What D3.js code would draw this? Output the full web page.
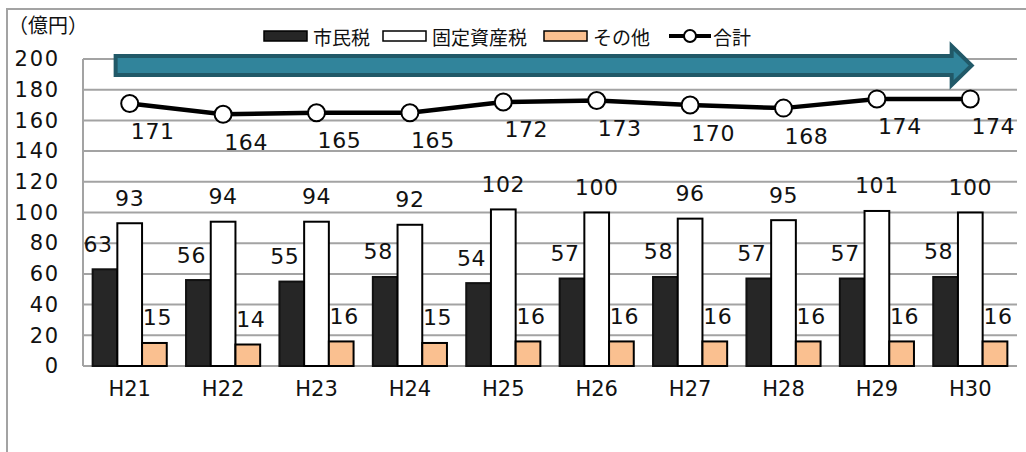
<!DOCTYPE html>
<html><head><meta charset="utf-8">
<script src="https://cdn.jsdelivr.net/npm/d3@7"></script>
<style>
html,body{margin:0;padding:0;background:#fff;}
svg{display:block;}
</style></head>
<body>
<svg id="chart" width="1026" height="452"></svg>
<script>
const categories = ["H21","H22","H23","H24","H25","H26","H27","H28","H29","H30"];
const shiminzei = [63,56,55,58,54,57,58,57,57,58];
const koteishisanzei = [93,94,94,92,102,100,96,95,101,100];
const sonota = [15,14,16,15,16,16,16,16,16,16];
const goukei = [171,164,165,165,172,173,170,168,174,174];
const yTicks = [0,20,40,60,80,100,120,140,160,180,200];
const seriesNames = ["市民税","固定資産税","その他","合計"];
const unitLabel = "（億円）";

const svg = d3.select("#chart");
const pLeft = 83, pRight = 1017, pTop = 59, pBottom = 366;
const gridColor = "#a3a3a3";

// frame
svg.append("path").attr("d", `M7,452 L7,9 L1026,9`).attr("fill","none")
  .attr("stroke", gridColor).attr("stroke-width", 2);

const x = d3.scaleBand().domain(categories).range([pLeft, pRight]);
const x1 = d3.scaleBand().domain(["a","b","c"]).range([0, x.bandwidth()]).paddingInner(0).paddingOuter(0.39);
const y = d3.scaleLinear().domain([0,200]).range([pBottom, pTop]);

// gridlines
svg.append("g").selectAll("line").data(yTicks).join("line")
  .attr("x1", pLeft).attr("x2", pRight)
  .attr("y1", d => y(d)).attr("y2", d => y(d))
  .attr("stroke", gridColor).attr("stroke-width", 2);
svg.append("line").attr("x1", pLeft).attr("x2", pLeft).attr("y1", y(200)).attr("y2", y(0))
  .attr("stroke", gridColor).attr("stroke-width", 2);

// y axis labels
const yAxis = d3.axisLeft(y).tickValues(yTicks).tickSize(0).tickPadding(23);
const ga = svg.append("g").attr("transform", `translate(${pLeft},0)`).call(yAxis);
ga.select(".domain").remove();
ga.selectAll("text").attr("font-size", 21).attr("fill","#111")
  .attr("font-family","DejaVu Sans").attr("letter-spacing", 1.8);

// x axis labels
const xAxis = d3.axisBottom(x).tickSize(0).tickPadding(15);
const gx = svg.append("g").attr("transform", `translate(0,${pBottom})`).call(xAxis);
gx.select(".domain").remove();
gx.selectAll("text").attr("font-size", 21).attr("fill","#111").attr("font-family","DejaVu Sans");

// bars
const series = [
  {key:"a", vals: shiminzei, fill:"#262626", stroke:"#111", dx:-7},
  {key:"b", vals: koteishisanzei, fill:"#ffffff", stroke:"#000", dx:0},
  {key:"c", vals: sonota, fill:"#FAC090", stroke:"#000", dx:3},
];
series.forEach(s => {
  const g = svg.append("g");
  g.selectAll("rect").data(s.vals).join("rect")
    .attr("x", (d,i) => x(categories[i]) + x1(s.key))
    .attr("width", x1.bandwidth())
    .attr("y", d => y(d))
    .attr("height", d => y(0) - y(d))
    .attr("fill", s.fill).attr("stroke", s.stroke).attr("stroke-width", 2);
});
series.forEach(s => {
  svg.append("g").selectAll("text").data(s.vals).join("text")
    .attr("x", (d,i) => x(categories[i]) + x1(s.key) + x1.bandwidth()/2 + s.dx)
    .attr("y", d => y(d) - 25)
    .attr("text-anchor","middle").attr("dominant-baseline","central")
    .attr("font-family","DejaVu Sans").attr("font-size", 22).attr("fill","#111")
    .attr("letter-spacing", 0.6)
    .text(d => d);
});

// arrow annotation
const ax0 = x(categories[0]) + x1("a") + 23, ax1 = x(categories[9]) + x1("c") - 31, tip = ax1 + 20;
const ay = y(195.8), bh = 9.5, hh = 19.5;
svg.append("path")
  .attr("d", `M${ax0},${ay-bh} L${ax1},${ay-bh} L${ax1},${ay-hh} L${tip},${ay} L${ax1},${ay+hh} L${ax1},${ay+bh} L${ax0},${ay+bh} Z`)
  .attr("fill","#31849B").attr("stroke","#215968").attr("stroke-width",4).attr("stroke-linejoin","miter");

// total line
const cx = (d,i) => x(categories[i]) + x.bandwidth()/2;
const line = d3.line().x((d,i) => cx(d,i)).y(d => y(d));
svg.append("path").datum(goukei).attr("d", line).attr("fill","none")
  .attr("stroke","#000").attr("stroke-width",4.5);
svg.append("g").selectAll("circle").data(goukei).join("circle")
  .attr("cx", cx).attr("cy", d => y(d)).attr("r", 8.5)
  .attr("fill","#fff").attr("stroke","#000").attr("stroke-width",2);
svg.append("g").selectAll("text").data(goukei).join("text")
  .attr("x", (d,i) => cx(d,i) + 23).attr("y", d => y(d) + 28)
  .attr("text-anchor","middle").attr("dominant-baseline","central")
  .attr("font-family","DejaVu Sans").attr("font-size", 22).attr("fill","#111")
  .attr("letter-spacing", 0.6)
  .text(d => d);

// unit label
svg.append("text").attr("x", 8).attr("y", 24).attr("dominant-baseline","central")
  .attr("font-family","Noto Sans CJK JP").attr("font-size", 20).attr("fill","#111").text(unitLabel);

// legend
const lg = svg.append("g");
const ly = 36;
const legendItems = [
  {name: seriesNames[0], type:"rect", fill:"#262626", x:264, tx:313},
  {name: seriesNames[1], type:"rect", fill:"#ffffff", x:383, tx:432},
  {name: seriesNames[2], type:"rect", fill:"#FAC090", x:544, tx:593},
  {name: seriesNames[3], type:"line", x:669, tx:713},
];
legendItems.forEach(it => {
  if (it.type === "rect") {
    lg.append("rect").attr("x", it.x).attr("y", ly-5).attr("width", 43).attr("height", 10)
      .attr("fill", it.fill).attr("stroke", "#000").attr("stroke-width", 1.5);
  } else {
    lg.append("line").attr("x1", it.x).attr("x2", it.x+42).attr("y1", ly).attr("y2", ly)
      .attr("stroke","#000").attr("stroke-width",4);
    lg.append("circle").attr("cx", it.x+21).attr("cy", ly).attr("r", 6)
      .attr("fill","#fff").attr("stroke","#000").attr("stroke-width",2);
  }
  lg.append("text").attr("x", it.tx).attr("y", ly).attr("dominant-baseline","central")
    .attr("font-family","Noto Sans CJK JP").attr("font-size", 19).attr("fill","#111").text(it.name);
});
</script>
</body></html>
